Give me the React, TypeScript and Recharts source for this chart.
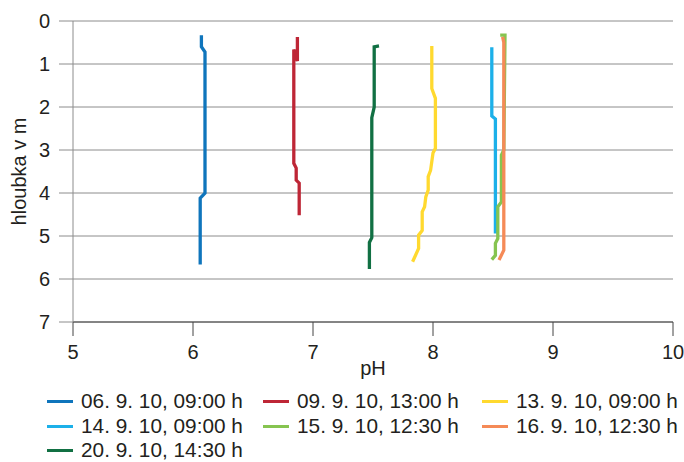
import { CartesianGrid, Label, Scatter, ScatterChart, XAxis, YAxis } from 'recharts';

// depth profiles: [hloubka (m), pH]
const s0609: [number, number][] = [
  [0.33, 6.07], [0.6, 6.07], [0.72, 6.1], [4.0, 6.1], [4.12, 6.06], [5.66, 6.06],
];
const s0909: [number, number][] = [
  [0.37, 6.87], [0.93, 6.87], [0.66, 6.84], [3.31, 6.84], [3.42, 6.86], [3.7, 6.86],
  [3.77, 6.885], [4.52, 6.885],
];
const s1309: [number, number][] = [
  [0.58, 7.99], [1.57, 7.99], [1.8, 8.02], [2.96, 8.02], [3.07, 8.0], [3.47, 7.98],
  [3.62, 7.96], [3.93, 7.96], [4.09, 7.94], [4.32, 7.93], [4.44, 7.91], [4.87, 7.91],
  [4.98, 7.88], [5.29, 7.88], [5.6, 7.83],
];
const s1409: [number, number][] = [
  [0.61, 8.49], [2.21, 8.49], [2.28, 8.52], [4.94, 8.52],
];
const s1509: [number, number][] = [
  [0.33, 8.56], [0.33, 8.6], [3.0, 8.59], [3.12, 8.57], [4.21, 8.57], [4.32, 8.54],
  [5.06, 8.54], [5.17, 8.52], [5.45, 8.52], [5.55, 8.49],
];
const s1609: [number, number][] = [
  [0.37, 8.58], [0.5, 8.59], [5.33, 8.59], [5.56, 8.55],
];
const s2009: [number, number][] = [
  [0.58, 7.55], [0.6, 7.51], [2.0, 7.51], [2.25, 7.49], [5.04, 7.49], [5.15, 7.47],
  [5.77, 7.47],
];

const seriesNames = [
  '06. 9. 10, 09:00 h',
  '09. 9. 10, 13:00 h',
  '13. 9. 10, 09:00 h',
  '14. 9. 10, 09:00 h',
  '15. 9. 10, 12:30 h',
  '16. 9. 10, 12:30 h',
  '20. 9. 10, 14:30 h',
];
const seriesColors = ['#0f75bc', '#be2636', '#ffd92f', '#1cb0e9', '#86c450', '#f58a57', '#117043'];
const seriesPoints = [s0609, s0909, s1309, s1409, s1509, s1609, s2009];

const phTicks = [5, 6, 7, 8, 9, 10];
const depthTicks = [0, 1, 2, 3, 4, 5, 6, 7];

const FONT = '"Liberation Sans", Arial, Helvetica, sans-serif';
const TEXT = '#231f20';

const series = seriesPoints.map((pts, i) => ({
  name: seriesNames[i],
  color: seriesColors[i],
  data: pts.map(([depth, ph]) => ({ depth, ph })),
}));

const Nothing = () => <g />;

function YLabel(props: any) {
  const vb = props.viewBox ?? { x: 0, y: 21, width: 73, height: 300 };
  const x = 26;
  const y = vb.y + vb.height / 2;
  return (
    <text x={x} y={y} transform={`rotate(-90, ${x}, ${y})`} textAnchor="middle" fill={TEXT} fontSize={20} fontFamily={FONT}>
      hloubka v m
    </text>
  );
}

export default function App() {
  const legendCols = [47, 263, 482];
  const legendRows = [401, 426, 450];
  return (
    <div style={{ position: 'absolute', left: 0, top: 0, width: 684, height: 462, background: '#fff', fontFamily: FONT, overflow: 'hidden' }}>
      <ScatterChart width={684} height={462} margin={{ top: 21, right: 11, bottom: 90, left: 0 }}>
        <CartesianGrid vertical={false} stroke="#8c8c8c" strokeWidth={1} />
        <XAxis
          type="number"
          dataKey="ph"
          domain={[5, 10]}
          ticks={phTicks}
          height={50}
          tickSize={14}
          tickMargin={9}
          stroke="#444"
          tick={{ fill: TEXT, fontSize: 20, fontFamily: FONT }}
          allowDataOverflow
        >
          <Label value="pH" position="insideBottom" offset={-3} fill={TEXT} fontSize={20} fontFamily={FONT} />
        </XAxis>
        <YAxis
          type="number"
          dataKey="depth"
          domain={[0, 7]}
          ticks={depthTicks}
          reversed
          width={73}
          tickSize={14}
          tickMargin={9}
          stroke="#8c8c8c"
          tick={{ fill: TEXT, fontSize: 20, fontFamily: FONT }}
          allowDataOverflow
          label={<YLabel />}
        />
        {series.map((s) => (
          <Scatter
            key={s.name}
            name={s.name}
            data={s.data}
            fill={s.color}
            line={{ stroke: s.color, strokeWidth: 3.3 }}
            shape={Nothing}
            legendType="none"
            isAnimationActive={false}
          />
        ))}
      </ScatterChart>
      {series.map((s, i) => (
        <div
          key={s.name}
          style={{
            position: 'absolute',
            left: legendCols[i % 3],
            top: legendRows[Math.floor(i / 3)] - 10,
            height: 20,
            lineHeight: '20px',
            display: 'flex',
            alignItems: 'center',
            gap: 8,
            fontSize: 20.8,
            color: TEXT,
            whiteSpace: 'nowrap',
          }}
        >
          <span style={{ display: 'inline-block', width: 26, height: 3, background: s.color }} />
          <span>{s.name}</span>
        </div>
      ))}
    </div>
  );
}
